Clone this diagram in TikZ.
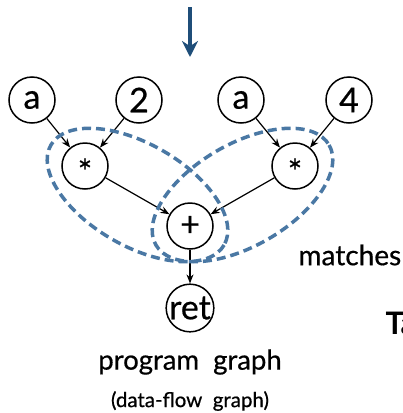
\documentclass[tikz,border=0pt]{standalone}
\usepackage{fontspec}
\setmainfont{Lato}
\newfontfamily\heavyfont{Lato}[FakeBold=0.6]
\usetikzlibrary{arrows.meta}
\definecolor{arrowblue}{HTML}{1F4E79}
\definecolor{matchblue}{HTML}{4A78A4}
\tikzset{
  op/.style={circle,draw,line width=1.5pt,minimum size=46pt,inner sep=0pt,font=\heavyfont\fontsize{34}{34}\selectfont},
  flow/.style={-{Stealth[length=9pt,width=7pt]},line width=1.2pt},
  match/.style={matchblue,line width=3.5pt,dash pattern=on 9pt off 5pt}
}
\newcommand{\mulsym}{\smash{\raisebox{-18pt}{*}}}
\begin{document}
\begin{tikzpicture}[x=1pt,y=-1pt]
			\useasboundingbox (0,0) rectangle (403,413);
			
			\node[op] (aL) at (32,100) {a};
			\node[op] (two) at (139,100) {2};
			\node[op] (aR) at (241,100) {a};
			\node[op] (four) at (349,100) {4};
			
			\node[op] (mulL) at (85,166) {\mulsym};
			\node[op] (mulR) at (295,166) {\mulsym};
			\node[op] (add) at (190,226) {+};
			\node[op] (ret) at (190,308) {ret};
			
			\draw[flow] (aL) to (mulL);
			\draw[flow] (two) to (mulL);
			\draw[flow] (aR) to (mulR);
			\draw[flow] (four) to (mulR);
			\draw[flow] (mulL) to (add);
			\draw[flow] (mulR) to (add);
			\draw[flow] (add) to (ret);
			
			% the two matched patterns
			\draw[match,rotate around={-30:(137.5,195)}] (137.5,195) ellipse [x radius=100,y radius=51];
			\draw[match,rotate around={30:(242.5,195)}] (242.5,195) ellipse [x radius=100,y radius=51];
			
			\coordinate (top) at (190,7);
			\coordinate (bot) at (190,57);
			\draw[arrowblue,line width=4pt,-{Stealth[length=16pt,width=16pt]}] (top) -- (bot);
			
			\node[anchor=west,font=\heavyfont\fontsize{28}{28}\selectfont] (matches) at (295,255) {matches};
			\node[anchor=west,font=\fontsize{31}{31}\selectfont\bfseries] (ta) at (382,323) {Ta};
			
			\node[font=\heavyfont\fontsize{27.5}{27.5}\selectfont] (prog) at (190,362) {program\ \ graph};
			\node[font=\heavyfont\fontsize{20.5}{20.5}\selectfont] (dfg) at (190,401) {(data-flow\ \ graph)};
		\end{tikzpicture}
\end{document}
